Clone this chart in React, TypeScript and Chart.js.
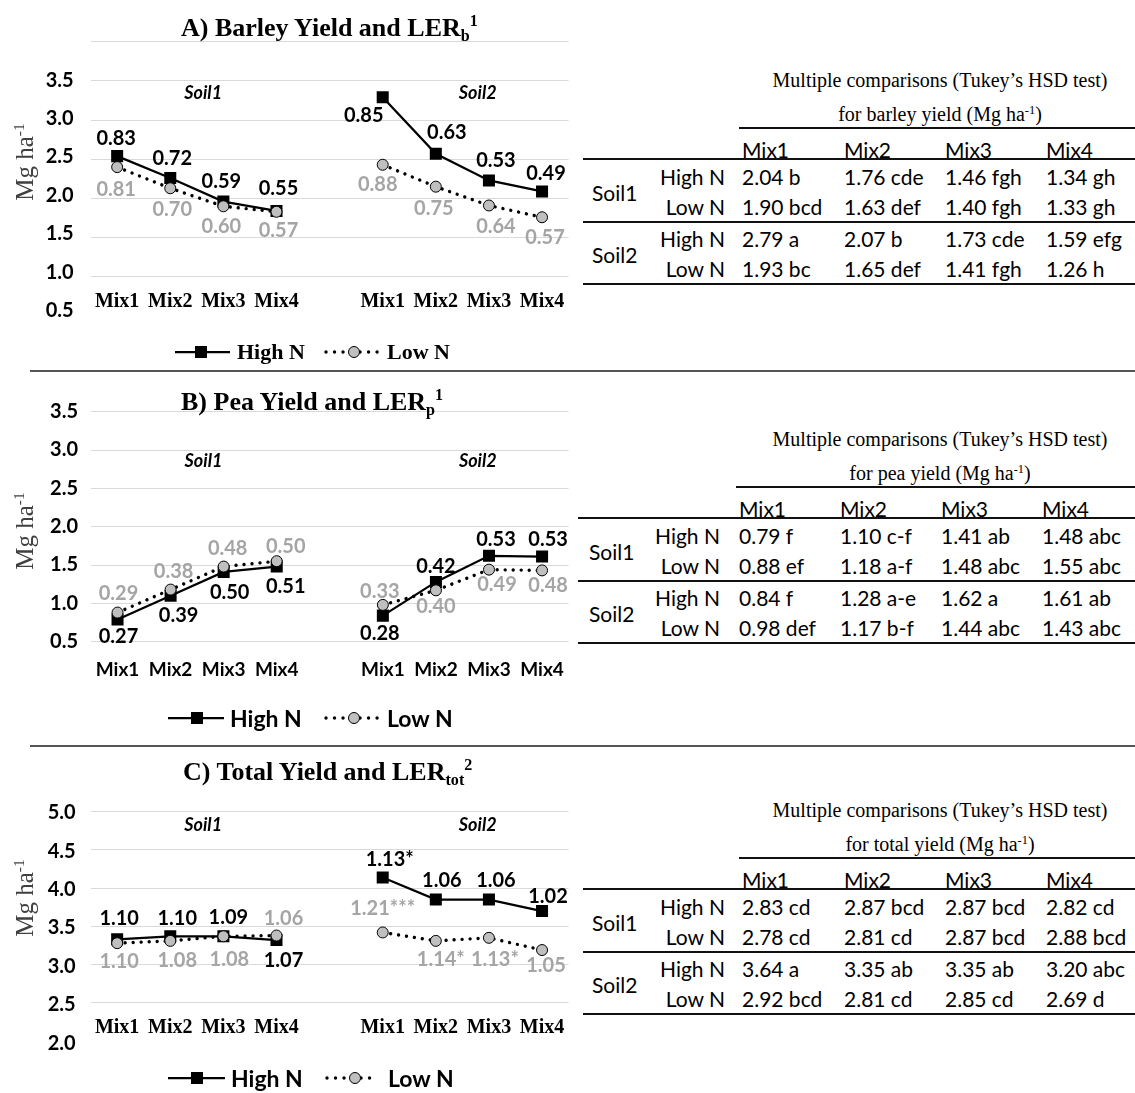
import React, { useEffect, useRef } from 'react';
import { Chart, registerables } from 'chart.js';

Chart.register(...registerables);

// ---------------- data ----------------
const xCategories = ['Mix1', 'Mix2', 'Mix3', 'Mix4', '', 'Mix1', 'Mix2', 'Mix3', 'Mix4'];
const tableColumns = ['Mix1', 'Mix2', 'Mix3', 'Mix4'];

// values: Soil1 Mix1..Mix4, then Soil2 Mix1..Mix4 (Mg ha-1)
const barleyHighN = [2.04, 1.76, 1.46, 1.34, 2.79, 2.07, 1.73, 1.59];
const barleyLowN = [1.90, 1.63, 1.40, 1.33, 1.93, 1.65, 1.41, 1.26];
const barleyLettersHighN = ['b', 'cde', 'fgh', 'gh', 'a', 'b', 'cde', 'efg'];
const barleyLettersLowN = ['bcd', 'def', 'fgh', 'gh', 'bc', 'def', 'fgh', 'h'];
const barleyLerHighN = ['0.83', '0.72', '0.59', '0.55', '0.85', '0.63', '0.53', '0.49'];
const barleyLerLowN = ['0.81', '0.70', '0.60', '0.57', '0.88', '0.75', '0.64', '0.57'];

const peaHighN = [0.79, 1.10, 1.41, 1.48, 0.84, 1.28, 1.62, 1.61];
const peaLowN = [0.88, 1.18, 1.48, 1.55, 0.98, 1.17, 1.44, 1.43];
const peaLettersHighN = ['f', 'c-f', 'ab', 'abc', 'f', 'a-e', 'a', 'ab'];
const peaLettersLowN = ['ef', 'a-f', 'abc', 'abc', 'def', 'b-f', 'abc', 'abc'];
const peaLerHighN = ['0.27', '0.39', '0.50', '0.51', '0.28', '0.42', '0.53', '0.53'];
const peaLerLowN = ['0.29', '0.38', '0.48', '0.50', '0.33', '0.40', '0.49', '0.48'];

const totalHighN = [2.83, 2.87, 2.87, 2.82, 3.64, 3.35, 3.35, 3.20];
const totalLowN = [2.78, 2.81, 2.87, 2.88, 2.92, 2.81, 2.85, 2.69];
const totalLettersHighN = ['cd', 'bcd', 'bcd', 'cd', 'a', 'ab', 'ab', 'abc'];
const totalLettersLowN = ['cd', 'cd', 'bcd', 'bcd', 'bcd', 'cd', 'cd', 'd'];
const totalLerHighN = ['1.10', '1.10', '1.09', '1.07', '1.13*', '1.06', '1.06', '1.02'];
const totalLerLowN = ['1.10', '1.08', '1.08', '1.06', '1.21***', '1.14*', '1.13*', '1.05'];

const yTickLabelsBarley = [0.5, 1.0, 1.5, 2.0, 2.5, 3.0, 3.5];
const yTickLabelsPea = [0.5, 1.0, 1.5, 2.0, 2.5, 3.0, 3.5];
const yTickLabelsTotal = [2.0, 2.5, 3.0, 3.5, 4.0, 4.5, 5.0];

// label placement (pixel offsets from each point) – layout, not data
const offBarleyHigh = [[-1, -18], [2, -20], [-2, -20], [2, -22], [-19, 18], [11, -21], [7, -20], [4, -18]];
const offBarleyLow = [[-1, 22], [2, 21], [-2, 20], [2, 19], [-5, 20], [-2, 22], [7, 21], [3, 20]];
const offPeaHigh = [[1, 17], [8, 20], [6, 21], [9, 20], [-3, 18], [0, -15], [7, -16], [6, -17]];
const offPeaLow = [[1, -19], [3, -18], [4, -18], [9, -15], [-3, -13], [0, 16], [8, 15], [6, 15]];
const offTotalHigh = [[2, -21], [7, -18], [5, -19], [7, 20], [7, -18], [6, -19], [7, -19], [6, -15]];
const offTotalLow = [[2, 18], [7, 20], [6, 23], [7, -17], [0, -24], [5, 19], [6, 22], [4, 16]];

const SERIF = '"Liberation Serif", "Times New Roman", serif';
const SANS = 'Lato, "Open Sans", sans-serif';
const GRAY_TEXT = '#a5a5a5';
const CANVAS_W = 576;

type PanelCfg = {
  top: number; height: number;
  chartTop: number; chartBottom: number; chartLeft: number; chartRight: number;
  yMin: number; yMax: number; labelMin: number; labelMax: number; yTicks: number[];
  hideBottomGrid: boolean;
  high: number[]; low: number[]; lerHigh: string[]; lerLow: string[];
  offHigh: number[][]; offLow: number[][];
  xFamily: string; xSize: number; xDy: number; yPad: number; soilY: number;
};

const toSeries = (v: number[]) => [...v.slice(0, 4), null, ...v.slice(4)];

function LineChart({ cfg }: { cfg: PanelCfg }) {
  const ref = useRef<HTMLCanvasElement | null>(null);
  useEffect(() => {
    if (!ref.current) return;
    const annot = {
      id: 'annot',
      afterDatasetsDraw(chart: any) {
        const ctx = chart.ctx;
        ctx.save();
        ctx.textAlign = 'center';
        ctx.textBaseline = 'middle';
        ctx.font = 'bold 20px Lato';
        const sets = [
          { texts: cfg.lerHigh, off: cfg.offHigh, color: '#000', di: 0 },
          { texts: cfg.lerLow, off: cfg.offLow, color: GRAY_TEXT, di: 1 },
        ];
        sets.forEach((s) => {
          const meta = chart.getDatasetMeta(s.di);
          s.texts.forEach((t, k) => {
            const idx = k < 4 ? k : k + 1;
            const el = meta.data[idx];
            if (!el) return;
            ctx.fillStyle = s.color;
            ctx.fillText(t, el.x + s.off[k][0], el.y + s.off[k][1]);
          });
        });
        const xs = chart.scales.x;
        const ys = chart.scales.y;
        ctx.font = 'italic bold 18px Lato';
        ctx.fillStyle = '#000';
        ctx.fillText('Soil1', xs.getPixelForValue(1.62), ys.getPixelForValue(cfg.soilY));
        ctx.fillText('Soil2', xs.getPixelForValue(6.79), ys.getPixelForValue(cfg.soilY));
        // category tick labels of the x axis
        ctx.font = `bold ${cfg.xSize}px ${cfg.xFamily}`;
        xs.ticks.forEach((t: any, i: number) => {
          const lab = xs.getLabelForValue(t.value);
          if (lab) ctx.fillText(lab, xs.getPixelForTick(i), chart.chartArea.bottom + cfg.xDy);
        });
        ctx.restore();
      },
    };
    const chart = new Chart(ref.current, {
      type: 'line',
      data: {
        labels: xCategories,
        datasets: [
          {
            label: 'High N', data: toSeries(cfg.high) as any, borderColor: '#000', backgroundColor: '#000',
            borderWidth: 2.25, pointStyle: 'rect', pointRadius: 8.5, pointBackgroundColor: '#000',
            pointBorderColor: '#000', pointBorderWidth: 0, spanGaps: false, tension: 0, order: 1,
          },
          {
            label: 'Low N', data: toSeries(cfg.low) as any, borderColor: '#000', backgroundColor: '#bfbfbf',
            borderWidth: 3.4, borderDash: [0.01, 8], borderCapStyle: 'round', pointStyle: 'circle',
            pointRadius: 5.5, pointBackgroundColor: '#bfbfbf', pointBorderColor: '#000', pointBorderWidth: 1,
            spanGaps: false, tension: 0, order: 0,
          },
        ],
      },
      options: {
        animation: false,
        responsive: false,
        maintainAspectRatio: false,
        devicePixelRatio: 1,
        layout: {
          autoPadding: false,
          padding: {
            left: 0,
            right: CANVAS_W - cfg.chartRight,
            top: cfg.chartTop - cfg.top,
            bottom: cfg.top + cfg.height - cfg.chartBottom,
          },
        },
        plugins: { legend: { display: false }, title: { display: false }, tooltip: { enabled: false } },
        scales: {
          x: {
            type: 'category', offset: true,
            grid: { display: false, drawTicks: false }, border: { display: false },
            ticks: { display: false, autoSkip: false, maxRotation: 0, minRotation: 0 },
            afterFit: (s: any) => { s.height = 0; },
          },
          y: {
            type: 'linear', position: 'left', min: cfg.yMin, max: cfg.yMax,
            ticks: { display: false, stepSize: 0.5 },
            grid: {
              drawTicks: false, lineWidth: 1,
              color: (c: any) => (cfg.hideBottomGrid && c.tick && Math.abs(c.tick.value - cfg.yMin) < 1e-6 ? 'rgba(0,0,0,0)' : '#d9d9d9'),
            },
            border: { display: false },
            afterFit: (s: any) => { s.width = 0; },
          },
          yLabels: {
            type: 'linear', position: 'left', min: cfg.labelMin, max: cfg.labelMax,
            grid: { display: false, drawTicks: false }, border: { display: false },
            afterBuildTicks: (s: any) => { s.ticks = cfg.yTicks.map((v) => ({ value: v })); },
            ticks: {
              padding: cfg.yPad, color: '#000',
              font: { family: SANS, size: 20, weight: 'bold' },
              callback: (v: any) => Number(v).toFixed(1),
            },
            afterFit: (s: any) => { s.width = cfg.chartLeft; },
          },
        },
      } as any,
      plugins: [annot],
    });
    return () => chart.destroy();
  }, [cfg]);
  return (
    <canvas ref={ref} width={CANVAS_W} height={cfg.height}
      style={{ position: 'absolute', left: 0, top: cfg.top, width: CANVAS_W, height: cfg.height, display: 'block' }} />
  );
}

const sup = (s: string) => (
  <span style={{ fontSize: '0.62em', position: 'relative', top: '-0.55em', verticalAlign: 'baseline' }}>{s}</span>
);
const sub = (s: string) => (
  <span style={{ fontSize: '0.62em', position: 'relative', top: '0.3em', verticalAlign: 'baseline' }}>{s}</span>
);

function Title({ x, y, main, subTxt, supTxt }: { x: number; y: number; main: string; subTxt: string; supTxt: string }) {
  return (
    <div style={{ position: 'absolute', left: x, top: y, transform: 'translateY(-50%)', fontFamily: SERIF, fontWeight: 'bold', fontSize: 26, lineHeight: 1, whiteSpace: 'nowrap', color: '#000' }}>
      {main}{sub(subTxt)}<span style={{ fontSize: '0.62em', position: 'relative', top: '-0.6em', verticalAlign: 'baseline' }}>{supTxt}</span>
    </div>
  );
}

function YTitle({ y }: { y: number }) {
  return (
    <div style={{ position: 'absolute', left: 24, top: y, transform: 'translate(-50%,-50%) rotate(-90deg)', fontFamily: SERIF, fontSize: 25, lineHeight: 1, whiteSpace: 'nowrap', color: '#404040' }}>
      Mg ha{sup('-1')}
    </div>
  );
}

type LegendProps = { y: number; hx: number[]; hm: number; htx: number; lx: number[]; lm: number; ltx: number; family: string; size: number };
function Legend({ y, hx, hm, htx, lx, lm, ltx, family, size }: LegendProps) {
  const txt = (x: number, s: string) => (
    <div style={{ position: 'absolute', left: x, top: y, transform: 'translateY(-50%)', fontFamily: family, fontWeight: 'bold', fontSize: size, lineHeight: 1, whiteSpace: 'nowrap', color: '#000' }}>{s}</div>
  );
  return (
    <>
      <svg style={{ position: 'absolute', left: 0, top: y - 12 }} width={CANVAS_W} height={24}>
        <line x1={hx[0]} x2={hx[1]} y1={12} y2={12} stroke="#000" strokeWidth={2.25} />
        <rect x={hm - 6} y={6} width={12} height={12} fill="#000" />
        <line x1={lx[0]} x2={lx[1]} y1={12} y2={12} stroke="#000" strokeWidth={3.4} strokeDasharray="0.01 8.5" strokeLinecap="round" />
        <circle cx={lm} cy={12} r={5.5} fill="#bfbfbf" stroke="#000" strokeWidth={1} />
      </svg>
      {txt(htx, 'High N')}
      {txt(ltx, 'Low N')}
    </>
  );
}

type TableProps = { top: number; subject: string; colX: number[]; rowRight: number; soilLeft: number; ruleLeft: number; rows: string[][] };
function StatsTable({ top, subject, colX, rowRight, soilLeft, ruleLeft, rows }: TableProps) {
  const base: React.CSSProperties = { position: 'absolute', lineHeight: 1, whiteSpace: 'nowrap', color: '#000', fontFamily: SANS, fontSize: 21 };
  const txt = (key: string, x: number, y: number, s: string, right = false) => (
    <div key={key} style={{ ...base, left: x, top: y - 2, transform: right ? 'translate(-100%,-50%)' : 'translateY(-50%)' }}>{s}</div>
  );
  const rule = (key: string, x: number, y: number) => (
    <div key={key} style={{ position: 'absolute', left: x, top: y - 1, width: 1135 - x, height: 2, background: '#111' }} />
  );
  const rowY = [top + 50, top + 80, top + 112, top + 142];
  const rowLab = ['High N', 'Low N', 'High N', 'Low N'];
  const titleStyle: React.CSSProperties = { position: 'absolute', left: 940, transform: 'translate(-50%,-50%)', fontFamily: SERIF, fontSize: 20, lineHeight: 1, whiteSpace: 'nowrap', color: '#000' };
  return (
    <>
      <div style={{ ...titleStyle, top: top - 48 }}>Multiple comparisons (Tukey’s HSD test)</div>
      <div style={{ ...titleStyle, top: top - 14 }}>for {subject} yield (Mg ha{sup('-1')})</div>
      {rule('r0', colX[0] - 3, top)}
      {tableColumns.map((c, i) => txt('h' + i, colX[i], top + 23, c))}
      {rule('r1', ruleLeft, top + 31)}
      {txt('s1', soilLeft, top + 66, 'Soil1')}
      {txt('s2', soilLeft, top + 128, 'Soil2')}
      {rule('r2', ruleLeft, top + 94)}
      {rule('r3', ruleLeft, top + 156)}
      {rows.map((r, ri) => (
        <React.Fragment key={'row' + ri}>
          {txt('rl' + ri, rowRight, rowY[ri], rowLab[ri], true)}
          {r.map((cell, ci) => txt('c' + ri + '_' + ci, colX[ci], rowY[ri], cell))}
        </React.Fragment>
      ))}
    </>
  );
}

const cells = (vals: number[], letters: string[], from: number) =>
  vals.slice(from, from + 4).map((v, i) => v.toFixed(2) + ' ' + letters[from + i]);

const cfgA: PanelCfg = {
  top: 0, height: 345, chartTop: 41.7, chartBottom: 322.9, chartLeft: 90.6, chartRight: 568.6,
  yMin: 0, yMax: 3.5, labelMin: 0.431, labelMax: 4.0, yTicks: yTickLabelsBarley, hideBottomGrid: true,
  high: barleyHighN, low: barleyLowN, lerHigh: barleyLerHighN, lerLow: barleyLerLowN,
  offHigh: offBarleyHigh, offLow: offBarleyLow,
  xFamily: SERIF, xSize: 20, xDy: -14.6, yPad: 17, soilY: 2.84,
};
const cfgB: PanelCfg = {
  top: 372, height: 330, chartTop: 411.7, chartBottom: 641.7, chartLeft: 91, chartRight: 568.6,
  yMin: 0.5, yMax: 3.5, labelMin: 0.5, labelMax: 3.5, yTicks: yTickLabelsPea, hideBottomGrid: false,
  high: peaHighN, low: peaLowN, lerHigh: peaLerHighN, lerLow: peaLerLowN,
  offHigh: offPeaHigh, offLow: offPeaLow,
  xFamily: SANS, xSize: 19, xDy: 28.3, yPad: 13, soilY: 2.85,
};
const cfgC: PanelCfg = {
  top: 748, height: 320, chartTop: 811.7, chartBottom: 1044.5, chartLeft: 90.6, chartRight: 568.6,
  yMin: 1.5, yMax: 4.5, labelMin: 2.03, labelMax: 5.014, yTicks: yTickLabelsTotal, hideBottomGrid: true,
  high: totalHighN, low: totalLowN, lerHigh: totalLerHighN, lerLow: totalLerLowN,
  offHigh: offTotalHigh, offLow: offTotalLow,
  xFamily: SERIF, xSize: 20, xDy: -12.8, yPad: 15, soilY: 4.33,
};

export default function App() {
  const sep = (y: number) => (
    <div style={{ position: 'absolute', left: 30, top: y - 1, width: 1105, height: 2, background: '#555' }} />
  );
  const colsAC = [742, 844, 945, 1046];
  const colsB = [739, 840, 941, 1042];
  return (
    <div style={{ position: 'absolute', left: 0, top: 0, width: 1135, height: 1093, background: '#fff', overflow: 'hidden' }}>
      <LineChart cfg={cfgA} />
      <LineChart cfg={cfgB} />
      <LineChart cfg={cfgC} />

      <Title x={181} y={28} main="A) Barley Yield and LER" subTxt="b" supTxt="1" />
      <Title x={181} y={402} main="B) Pea Yield and LER" subTxt="p" supTxt="1" />
      <Title x={183} y={772} main="C) Total Yield and LER" subTxt="tot" supTxt="2" />

      <YTitle y={161.5} />
      <YTitle y={531} />
      <YTitle y={898} />

      <Legend y={352} hx={[175, 230]} hm={201} htx={237} lx={[326, 378]} lm={354} ltx={387} family={SERIF} size={22} />
      <Legend y={718} hx={[168, 224]} hm={197} htx={230} lx={[326, 378]} lm={354} ltx={387} family={SANS} size={23} />
      <Legend y={1078} hx={[168, 225]} hm={197} htx={231} lx={[327, 378]} lm={355} ltx={388} family={SANS} size={23} />

      {sep(371)}
      {sep(746)}

      <StatsTable top={128.3} subject="barley" colX={colsAC} rowRight={725} soilLeft={592} ruleLeft={583}
        rows={[cells(barleyHighN, barleyLettersHighN, 0), cells(barleyLowN, barleyLettersLowN, 0), cells(barleyHighN, barleyLettersHighN, 4), cells(barleyLowN, barleyLettersLowN, 4)]} />
      <StatsTable top={486.7} subject="pea" colX={colsB} rowRight={720} soilLeft={589} ruleLeft={578}
        rows={[cells(peaHighN, peaLettersHighN, 0), cells(peaLowN, peaLettersLowN, 0), cells(peaHighN, peaLettersHighN, 4), cells(peaLowN, peaLettersLowN, 4)]} />
      <StatsTable top={858.3} subject="total" colX={colsAC} rowRight={725} soilLeft={592} ruleLeft={583}
        rows={[cells(totalHighN, totalLettersHighN, 0), cells(totalLowN, totalLettersLowN, 0), cells(totalHighN, totalLettersHighN, 4), cells(totalLowN, totalLettersLowN, 4)]} />
    </div>
  );
}
